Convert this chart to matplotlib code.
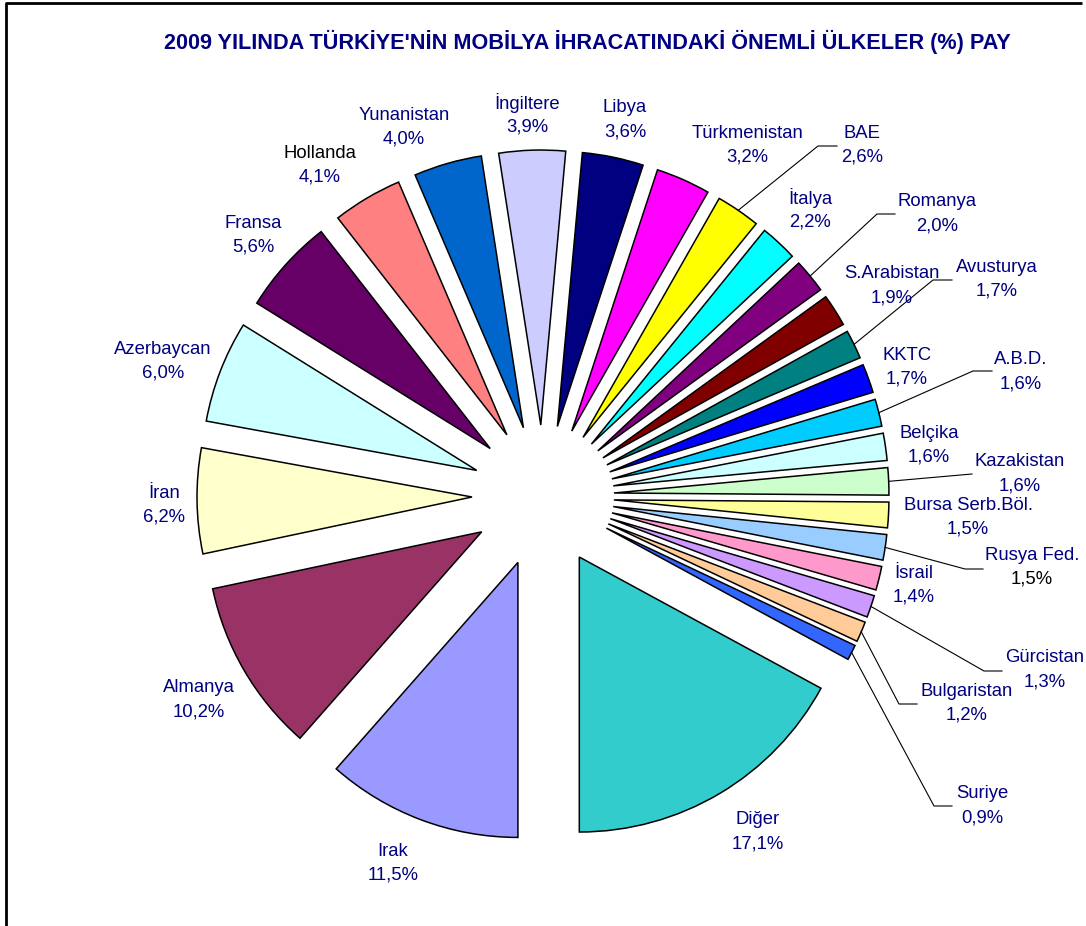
import matplotlib
matplotlib.use("Agg")
import matplotlib.pyplot as plt
import numpy as np

plt.rcParams['font.family'] = ['Liberation Sans', 'DejaVu Sans']

# slices in drawing order, clockwise starting at 6 o'clock
countries = ['Irak', 'Almanya', 'İran', 'Azerbaycan', 'Fransa', 'Hollanda',
             'Yunanistan', 'İngiltere', 'Libya', 'Türkmenistan', 'BAE', 'İtalya',
             'Romanya', 'S.Arabistan', 'Avusturya', 'KKTC', 'A.B.D.', 'Belçika',
             'Kazakistan', 'Bursa Serb.Böl.', 'Rusya Fed.', 'İsrail', 'Gürcistan',
             'Bulgaristan', 'Suriye', 'Diğer']
shares = [11.5, 10.2, 6.2, 6.0, 5.6, 4.1,
          4.0, 3.9, 3.6, 3.2, 2.6, 2.2,
          2.0, 1.9, 1.7, 1.7, 1.6, 1.6,
          1.6, 1.5, 1.5, 1.4, 1.3,
          1.2, 0.9, 17.1]
colors = ['#9999FF', '#993366', '#FFFFCC', '#CCFFFF', '#660066', '#FF8080',
          '#0066CC', '#CCCCFF', '#000080', '#FF00FF', '#FFFF00', '#00FFFF',
          '#800080', '#800000', '#008080', '#0000FF', '#00CCFF', '#CCFFFF',
          '#CCFFCC', '#FFFF99', '#99CCFF', '#FF99CC', '#CC99FF',
          '#FFCC99', '#3366FF', '#33CCCC']

title = "2009 YILINDA TÜRKİYE'NİN MOBİLYA İHRACATINDAKİ ÖNEMLİ ÜLKELER (%) PAY"

# label layout (pixel coords, centre of the first text line)
label_pos = {
    'Irak': (393, 851), 'Almanya': (199, 688), 'İran': (164, 493),
    'Azerbaycan': (163, 349), 'Fransa': (253, 223), 'Hollanda': (320, 153),
    'Yunanistan': (404, 115), 'İngiltere': (527, 103), 'Libya': (625, 108),
    'Türkmenistan': (747, 133), 'BAE': (862, 133), 'İtalya': (810, 198),
    'Romanya': (937, 202), 'S.Arabistan': (892, 274), 'Avusturya': (997, 267),
    'KKTC': (907, 355), 'A.B.D.': (1021, 360), 'Belçika': (929, 433),
    'Kazakistan': (1020, 462), 'Bursa Serb.Böl.': (968, 505),
    'Rusya Fed.': (1032, 555), 'İsrail': (914, 573), 'Gürcistan': (1045, 658),
    'Bulgaristan': (967, 691), 'Suriye': (982, 794), 'Diğer': (758, 820),
}
# leader lines: elbow point and end of the short horizontal piece
leaders = {
    'BAE': ((818, 146), (837, 146)),
    'Romanya': ((877, 214), (895, 214)),
    'Avusturya': ((933, 280), (952, 280)),
    'A.B.D.': ((973, 371), (992, 371)),
    'Kazakistan': ((972, 474), (972, 474)),
    'Rusya Fed.': ((965, 569), (983, 569)),
    'Gürcistan': ((984, 671), (1002, 671)),
    'Bulgaristan': ((899, 704), (917, 704)),
    'Suriye': ((934, 806), (952, 806)),
}
navy = '#000080'
name_color = {'Hollanda': 'black'}
value_color = {'Rusya Fed.': 'black'}

W, H = 1086, 926
fig = plt.figure(figsize=(W / 100, H / 100), dpi=100)
ax = fig.add_axes([0, 0, 1, 1])

# y axis is inverted, so counterclock in data runs clockwise on screen
wedges, _ = ax.pie(shares, colors=colors, startangle=90, counterclock=True,
                   center=(543, 496), radius=275, explode=[71] * len(shares),
                   wedgeprops=dict(edgecolor='black', linewidth=1.1))
ax.set_xlim(0, W)
ax.set_ylim(H, 0)
ax.set_aspect('auto')
ax.axis('off')

for w, name, val in zip(wedges, countries, shares):
    x, y = label_pos[name]
    ax.text(x, y, name, ha='center', va='center', fontsize=13.3,
            color=name_color.get(name, navy))
    ax.text(x, y + 24, f"{val:.1f}".replace('.', ',') + '%', ha='center',
            va='center', fontsize=13.3, color=value_color.get(name, navy))
    if name in leaders:
        tm = np.deg2rad((w.theta1 + w.theta2) / 2)
        ex = w.center[0] + w.r * np.cos(tm)
        ey = w.center[1] + w.r * np.sin(tm)
        (bx, by), (cx, cy) = leaders[name]
        ax.plot([ex, bx, cx], [ey, by, cy], color='black', lw=0.8)

ax.text(587, 42, title, ha='center', va='center', fontsize=15.55,
        fontweight='bold', color=navy)

# chart frame (left and top edges visible)
ax.plot([6, 6, 1082], [H, 3, 3], color='black', lw=2, solid_capstyle='butt')

fig.savefig('out.png', dpi=100)
